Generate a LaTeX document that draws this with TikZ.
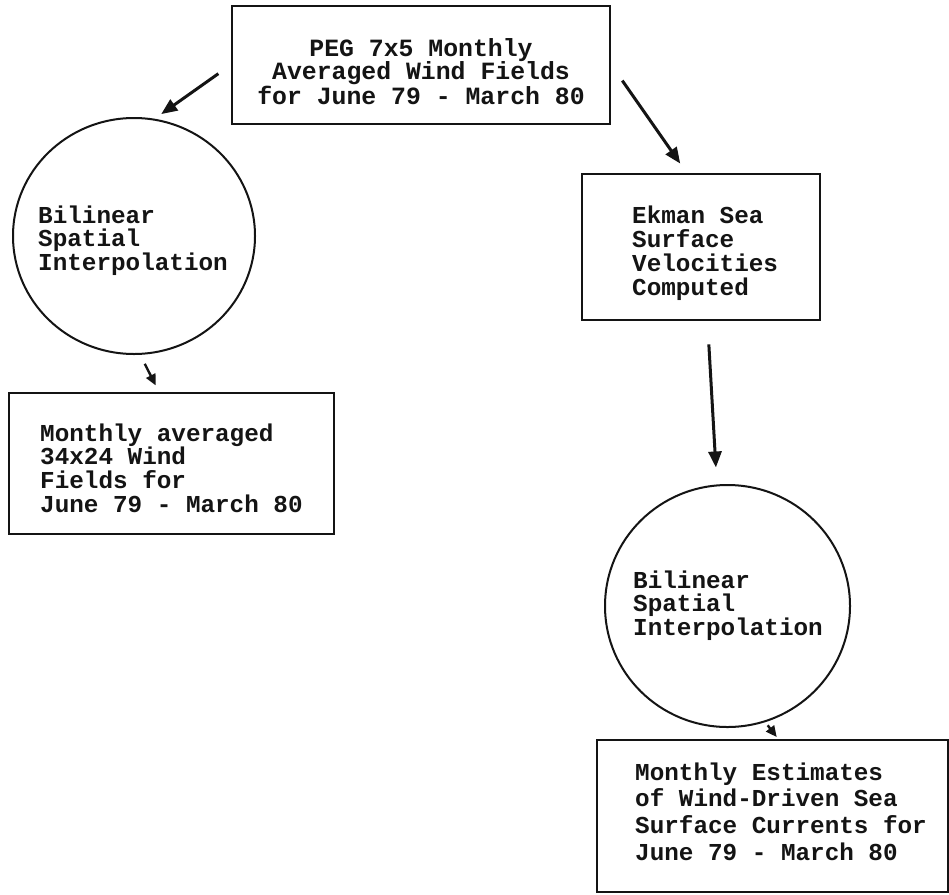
\documentclass[tikz,border=0pt]{standalone}
\usepackage{fontspec}
\newfontfamily\tw{Liberation Mono}
\usetikzlibrary{arrows.meta,shapes.geometric}
\definecolor{ink}{HTML}{141414}
\begin{document}
\begin{tikzpicture}[x=1pt,y=-1pt,
  box/.style={draw=ink, line width=2.8pt, rectangle, inner sep=0pt},
  ring/.style={draw=ink, line width=2pt, ellipse, inner sep=0pt},
  txt/.style={inner sep=0pt, anchor=base west, text=ink,
    font=\tw\bfseries\fontsize{24.3}{#1}\selectfont},
  txt/.default=23.6,
  arr/.style={draw=ink, line width=3pt, -{Triangle[length=16pt,width=13pt]}},
  sarr/.style={draw=ink, line width=2.4pt, -{Triangle[length=11pt,width=10pt]}}]
\useasboundingbox (0,0) rectangle (949,894);
\fill[white] (0,0) rectangle (949,894);

% shapes
\node[box, minimum width=378pt, minimum height=118pt] (top) at (421,65) {};
\node[ring, minimum width=242pt, minimum height=236pt] (lc) at (134,236) {};
\node[box, minimum width=325pt, minimum height=141pt] (lb) at (171.5,463.5) {};
\node[box, minimum width=238pt, minimum height=146pt] (ek) at (701,247) {};
\node[ring, minimum width=245pt, minimum height=242pt] (rc) at (727.5,606) {};
\node[box, minimum width=351pt, minimum height=152pt] (br) at (772.5,816) {};

% texts
\node[txt=23.2, anchor=base, font=\tw\bfseries\fontsize{24.8}{23.2}\selectfont] (topt) at (421,56.5)
  {\parbox[t]{378pt}{\centering PEG 7x5 Monthly\\Averaged Wind Fields\\for June 79 - March 80}};
\node[txt=23.5] (lct) at (38,223)
  {\parbox[t]{330pt}{\raggedright Bilinear\\Spatial\\Interpolation}};
\node[txt=23.7] (lbt) at (40,441)
  {\parbox[t]{330pt}{\raggedright Monthly averaged\\34x24 Wind\\Fields for\\June 79 - March 80}};
\node[txt=24] (ekt) at (632,223)
  {\parbox[t]{330pt}{\raggedright Ekman Sea\\Surface\\Velocities\\Computed}};
\node[txt=23.5] (rct) at (633,588)
  {\parbox[t]{330pt}{\raggedright Bilinear\\Spatial\\Interpolation}};
\node[txt=26.7] (brt) at (635,780)
  {\parbox[t]{330pt}{\raggedright Monthly Estimates\\of Wind-Driven Sea\\Surface Currents for\\June 79 - March 80}};

% connectors
\draw[arr, shorten <=15pt, shorten >=8pt] (top.west) -- (lc.80);
\draw[arr, shorten <=19pt, shorten >=11pt] (top.east) -- (ek.101);
\draw[arr, shorten <=23pt, shorten >=17pt] (ek.-85) -- (rc.95);
\draw[sarr, shorten <=10pt, shorten >=7pt] (lc.-87) -- (lb.100);
\draw[sarr, shorten <=4pt, shorten >=2pt] (rc.-72) -- (br.86);
\end{tikzpicture}
\end{document}
